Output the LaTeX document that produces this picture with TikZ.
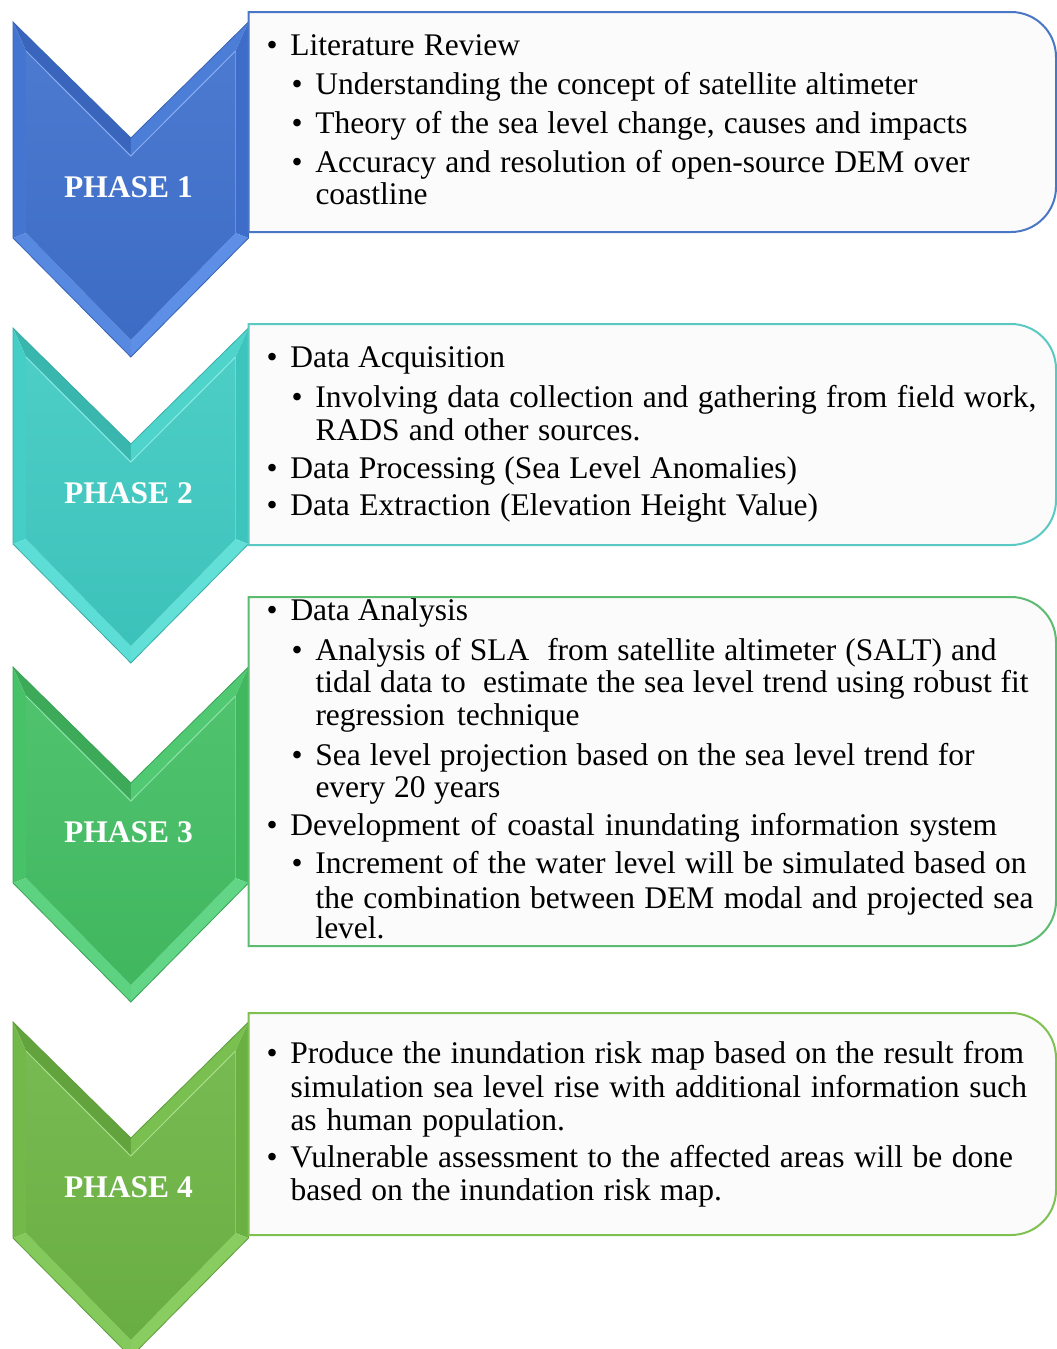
\documentclass[tikz,border=0pt]{standalone}
\usepackage{fontspec}
\setmainfont{Liberation Serif}
\usetikzlibrary{calc}
\definecolor{pAbase}{HTML}{3F70CD}\definecolor{pAdark}{HTML}{3762B5}\definecolor{pAlight}{HTML}{5F92E8}
\definecolor{pBbase}{HTML}{3FCAC2}\definecolor{pBdark}{HTML}{37ADA6}\definecolor{pBlight}{HTML}{66E3DB}
\definecolor{pCbase}{HTML}{43BE63}\definecolor{pCdark}{HTML}{3AA255}\definecolor{pClight}{HTML}{66D98A}
\definecolor{pDbase}{HTML}{6DB545}\definecolor{pDdark}{HTML}{5E9C3B}\definecolor{pDlight}{HTML}{8CD063}
\definecolor{bAline}{HTML}{4A76C6}\definecolor{bBline}{HTML}{5BC9C3}
\definecolor{bCline}{HTML}{5CBB70}\definecolor{bDline}{HTML}{7FC151}
\definecolor{boxfill}{HTML}{FBFBFB}
\newlength\natw
\newcommand\fitln[2]{\settowidth\natw{#2}\ifdim\natw>#1pt\relax\pgfmathsetmacro\fitr{#1/\natw}\scalebox{\fitr}[1]{#2}\else\makebox[#1pt][s]{#2}\fi}
\newcommand\bul{\makebox[24pt][l]{•}}
\tikzset{
  txt/.style={inner sep=0pt, outer sep=0pt, anchor=base west, font=\fontsize{31.5}{33}\selectfont, text=black},
  phaselabel/.style={inner sep=0pt, text=white, font=\fontsize{31.5}{33}\selectfont\bfseries},
}
% #1 name, #2 top y, #3 color prefix, #4 label
\newcommand\phasechev[4]{%
  \begin{scope}[shift={(0,#2)}]
    \coordinate (A) at (13,0);      \coordinate (N) at (130.8,116);  \coordinate (B) at (248.5,0);
    \coordinate (C) at (248.5,216); \coordinate (P) at (130.8,335);  \coordinate (D) at (13,216);
    \coordinate (Ai) at (26,29);    \coordinate (Ni) at (130.8,134); \coordinate (Bi) at (235.5,29);
    \coordinate (Ci) at (235.5,211);\coordinate (Pi) at (130.8,318); \coordinate (Di) at (26,211);
    \fill[#3dark!70!#3base] (A) -- (N) -- (Ni) -- (Ai) -- cycle;
    \fill[#3base!60!#3light] (N) -- (B) -- (Bi) -- (Ni) -- cycle;
    \fill[#3base!85!#3light] (A) -- (Ai) -- (Di) -- (D) -- cycle;
    \fill[#3base!80!#3dark] (B) -- (C) -- (Ci) -- (Bi) -- cycle;
    \fill[#3light!90!#3base] (C) -- (P) -- (Pi) -- (Ci) -- cycle;
    \fill[#3light!75!#3base] (D) -- (Di) -- (Pi) -- (P) -- cycle;
    \shade[top color=#3base!93!white, bottom color=#3base!96!black] (Ai) -- (Ni) -- (Bi) -- (Ci) -- (Pi) -- (Di) -- cycle;
    \draw[#3light!75!white, line width=1pt] (Ai) -- (Ni) -- (Bi);
    \draw[#3dark, line width=0.8pt] (A) -- (N) -- (B) -- (C) -- (P) -- (D) -- cycle;
    \node[phaselabel] (#1) at (128.5,165) {#4};
  \end{scope}}
% #1 top y, #2 bottom y, #3 colour
\newcommand\phasebox[3]{%
  \filldraw[fill=boxfill, draw=#3, line width=2pt]
    (248.5,#1) -- (1011,#1) arc[start angle=-90, end angle=0, radius=45]
    -- (1056,{#2-45}) arc[start angle=0, end angle=90, radius=45] -- (248.5,#2) -- cycle;}
\begin{document}
\begin{tikzpicture}[x=1pt, y=-1pt]
\useasboundingbox (0,0) rectangle (1057,1349);
\clip (0,0) rectangle (1057,1349);
\fill[white] (0,0) rectangle (1057,1349);

\phasechev{ph1}{22}{pA}{PHASE 1}
\phasechev{ph2}{328}{pB}{PHASE 2}
\phasechev{ph3}{667}{pC}{PHASE 3}
\phasechev{ph4}{1022}{pD}{PHASE 4}

\phasebox{12}{232}{bAline}
\phasebox{324}{545}{bBline}
\phasebox{597}{946}{bCline}
\phasebox{1013}{1235}{bDline}

% Box 1
\node[txt] (a1) at (266.5,55)  {\bul\fitln{229.5}{Literature Review}};
\node[txt] (a2) at (291.5,94)  {\bul\fitln{602}{Understanding the concept of satellite altimeter}};
\node[txt] (a3) at (291.5,133) {\bul\fitln{652}{Theory of the sea level change, causes and impacts}};
\node[txt] (a4) at (291.5,172) {\bul\fitln{654}{Accuracy and resolution of open-source DEM over}};
\node[txt] (a5) at (315.5,204) {coastline};

% Box 2
\node[txt] (b1) at (266.5,367) {\bul\fitln{214.5}{Data Acquisition}};
\node[txt] (b2) at (291.5,407) {\bul\fitln{721}{Involving data collection and gathering from field work,}};
\node[txt] (b3) at (315.5,440) {\fitln{325}{RADS and other sources.}};
\node[txt] (b4) at (266.5,478) {\bul\fitln{506.5}{Data Processing (Sea Level Anomalies)}};
\node[txt] (b5) at (266.5,515) {\bul\fitln{527.5}{Data Extraction (Elevation Height Value)}};

% Box 3
\node[txt] (c1) at (266.5,620) {\bul\fitln{177.5}{Data Analysis}};
\node[txt] (c2) at (291.5,660) {\bul\fitln{681}{Analysis of SLA~ from satellite altimeter (SALT) and}};
\node[txt] (c3) at (315.5,692) {\fitln{713}{tidal data to~ estimate the sea level trend using robust fit}};
\node[txt] (c4) at (315.5,725) {\fitln{264}{regression technique}};
\node[txt] (c5) at (291.5,765) {\bul\fitln{659}{Sea level projection based on the sea level trend for}};
\node[txt] (c6) at (315.5,797) {\fitln{185}{every 20 years}};
\node[txt] (c7) at (266.5,835) {\bul\fitln{706.5}{Development of coastal inundating information system}};
\node[txt] (c8) at (291.5,873) {\bul\fitln{711}{Increment of the water level will be simulated based on}};
\node[txt] (c9) at (315.5,908) {\fitln{718}{the combination between DEM modal and projected sea}};
\node[txt] (c10) at (315.5,938) {level.};

% Box 4
\node[txt] (d1) at (266.5,1063) {\bul\fitln{733.5}{Produce the inundation risk map based on the result from}};
\node[txt] (d2) at (290.5,1097) {\fitln{736.5}{simulation sea level rise with additional information such}};
\node[txt] (d3) at (290.5,1130) {\fitln{274.5}{as human population.}};
\node[txt] (d4) at (266.5,1167) {\bul\fitln{722.5}{Vulnerable assessment to the affected areas will be done}};
\node[txt] (d5) at (290.5,1200) {\fitln{431.5}{based on the inundation risk map.}};
\end{tikzpicture}
\end{document}
